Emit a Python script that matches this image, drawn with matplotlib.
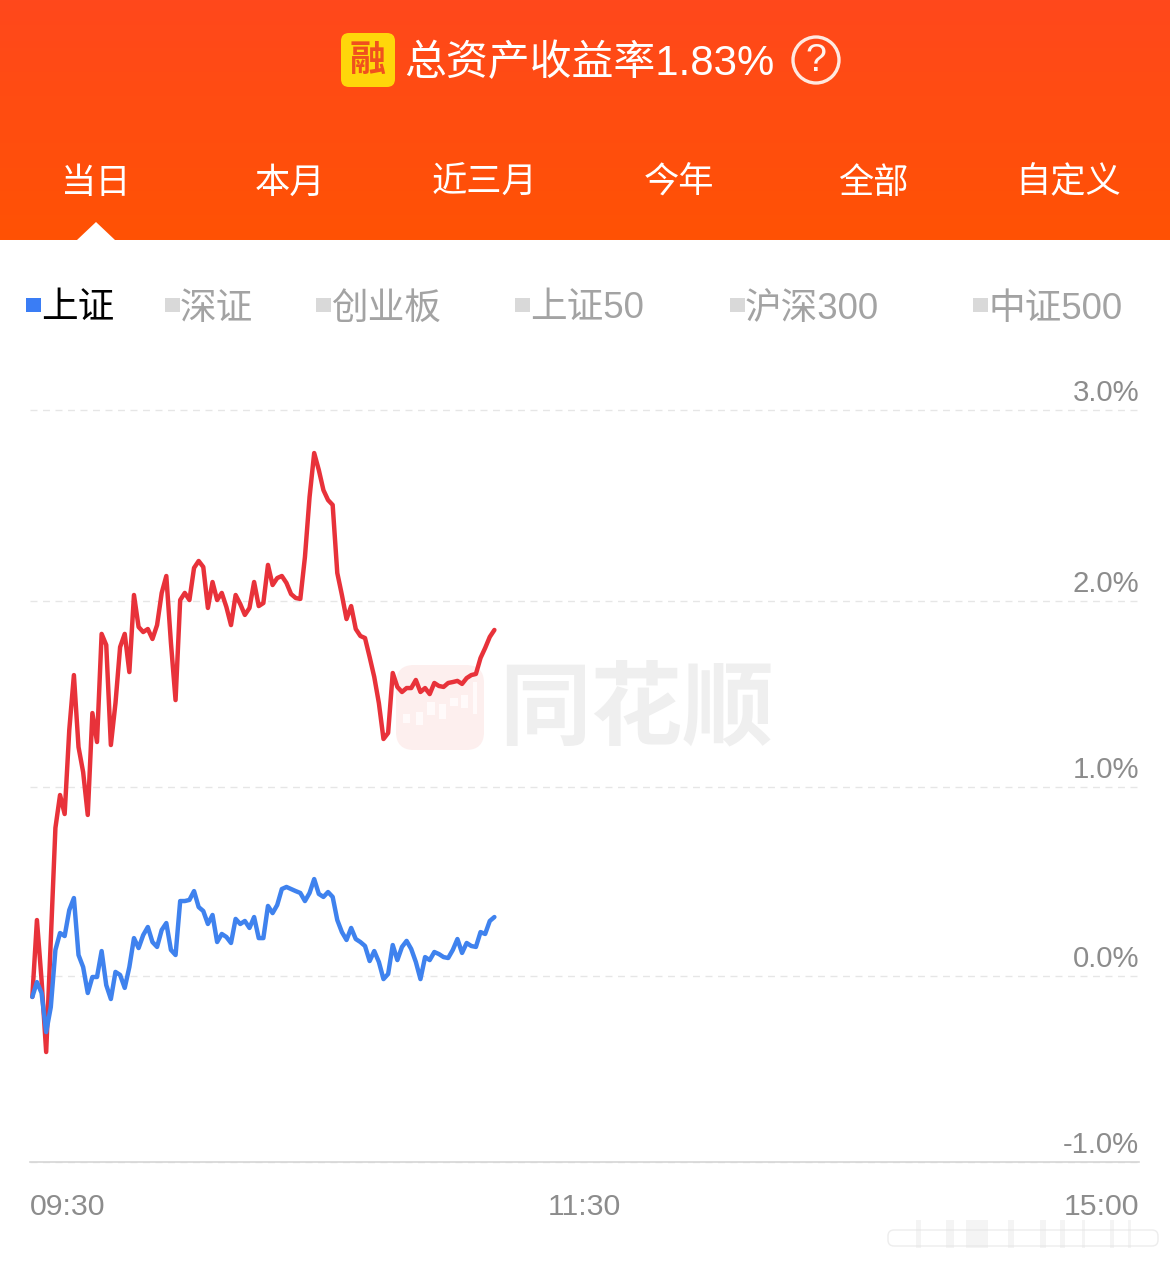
# %%
# Import area
import numpy as np
import matplotlib
matplotlib.use('Agg')
import matplotlib.pyplot as plt
from matplotlib.patches import FancyBboxPatch, Circle, Polygon, Rectangle

plt.rcParams['font.family'] = ['Liberation Sans', 'Noto Sans CJK SC', 'DejaVu Sans']

# %%
# Data

title_text = '总资产收益率1.83%'
tabs = ['当日', '本月', '近三月', '今年', '全部', '自定义']
indices = ['上证', '深证', '创业板', '上证50', '沪深300', '中证500']

y_labels = ['3.0%', '2.0%', '1.0%', '0.0%', '-1.0%']
grid_levels = [3.0, 1.984, 0.995, -0.011, -1.0]   # the lines are not quite evenly spaced in the screenshot

x_ticks = [0, 120, 240]
x_labels = ['09:30', '11:30', '15:00']

# one point per trading minute, in %
account = [
    -0.122, 0.287, -0.032, -0.415, 0.181, 0.777, 0.952, 0.851, 1.298, 1.590,
    1.207, 1.074, 0.846, 1.388, 1.234, 1.809, 1.750, 1.218, 1.441, 1.739,
    1.809, 1.606, 2.016, 1.846, 1.819, 1.835, 1.782, 1.856, 2.027, 2.117,
    1.761, 1.457, 1.989, 2.027, 1.989, 2.160, 2.197, 2.165, 1.947, 2.085,
    1.989, 2.027, 1.952, 1.856, 2.016, 1.968, 1.910, 1.947, 2.085, 1.957,
    1.973, 2.176, 2.069, 2.106, 2.117, 2.080, 2.021, 2.000, 1.995, 2.218,
    2.537, 2.771, 2.681, 2.574, 2.521, 2.495, 2.133, 2.016, 1.888, 1.957,
    1.835, 1.798, 1.787, 1.686, 1.580, 1.441, 1.250, 1.282, 1.601, 1.527,
    1.500, 1.521, 1.521, 1.564, 1.500, 1.521, 1.489, 1.548, 1.532, 1.527,
    1.548, 1.553, 1.559, 1.543, 1.574, 1.590, 1.596, 1.681, 1.734, 1.793,
    1.830]

shanghai = [
    -0.122, -0.043, -0.101, -0.309, -0.176, 0.128, 0.218, 0.202, 0.340, 0.404,
    0.101, 0.037, -0.101, -0.016, -0.016, 0.122, -0.059, -0.133, 0.011, -0.005,
    -0.074, 0.037, 0.191, 0.138, 0.207, 0.250, 0.170, 0.144, 0.234, 0.271,
    0.128, 0.101, 0.388, 0.388, 0.394, 0.441, 0.356, 0.335, 0.266, 0.314,
    0.170, 0.213, 0.197, 0.165, 0.293, 0.266, 0.282, 0.245, 0.303, 0.191,
    0.191, 0.362, 0.324, 0.367, 0.452, 0.463, 0.452, 0.441, 0.431, 0.388,
    0.431, 0.505, 0.426, 0.410, 0.436, 0.410, 0.287, 0.223, 0.181, 0.245,
    0.186, 0.170, 0.149, 0.069, 0.122, 0.064, -0.027, 0.000, 0.154, 0.074,
    0.144, 0.176, 0.133, 0.064, -0.027, 0.090, 0.074, 0.117, 0.106, 0.090,
    0.085, 0.128, 0.186, 0.112, 0.165, 0.149, 0.144, 0.223, 0.213, 0.282,
    0.303]

minutes = np.arange(len(account)) + 0.5

# %%
# Page furniture, drawn in pixel coordinates
W, H = 1170, 1263
fig = plt.figure(figsize=(W / 100, H / 100), dpi=100, facecolor='white')

bg = fig.add_axes([0, 0, 1, 1], zorder=0)
bg.imshow(np.linspace(0, 1, 240).reshape(-1, 1),
          cmap=matplotlib.colors.LinearSegmentedColormap.from_list('hdr', ['#FF481C', '#FF5204']),
          extent=[0, W, 240, 0], aspect='auto')
bg.set_xlim(0, W)
bg.set_ylim(H, 0)
bg.axis('off')

# little notch under the active tab
bg.add_patch(Polygon([[77, 240], [96, 222], [115, 240]], fc='white', ec='none'))

# title row
bg.add_patch(FancyBboxPatch((346, 38), 44, 44, boxstyle='round,pad=5,rounding_size=8',
                            fc='#FFD60A', ec='none'))
bg.text(368, 62, '融', color='#F0501E', fontsize=26, weight='bold', ha='center', va='center')
bg.text(404, 64, title_text, color='white', fontsize=30.2, ha='left', va='center')
bg.add_patch(Circle((816, 60), 23, fc='none', ec='#FFE9E0', lw=2.4))
bg.text(816, 61, '?', color='#FFF3EE', fontsize=27, ha='center', va='center')

# period tabs
tab_x = [96, 290, 484, 679, 873, 1068]
for x, t in zip(tab_x, tabs):
    bg.text(x, 183, t, color='white', fontsize=25.4, ha='center', va='center')

# index selector
square_x = [26, 165, 316, 515, 730, 973]
for i, (x, t) in enumerate(zip(square_x, indices)):
    active = i == 0
    bg.add_patch(Rectangle((x, 298), 15, 14, fc='#3A7DF5' if active else '#D9D9D9', ec='none'))
    bg.text(x + 15, 309, t, color='black' if active else '#A3A3A3', fontsize=26.4,
            ha='left', va='center')

# watermark, sits under the lines
bg.add_patch(FancyBboxPatch((408, 677), 64, 61, boxstyle='round,pad=12,rounding_size=18',
                            fc='#FDEFEE', ec='none'))
for x, y, w, h in [(403, 714, 7, 9), (416, 712, 7, 13), (427, 702, 8, 13), (439, 704, 7, 15),
                   (450, 698, 8, 8), (461, 695, 7, 13), (473, 682, 4, 32)]:
    bg.add_patch(Rectangle((x, y), w, h, fc='#FFFAFA', ec='none'))
bg.text(637, 713, '同花顺', color='#EFEFEF', fontsize=66, weight='bold', ha='center', va='center')

# blurred stamp in the bottom corner
bg.add_patch(FancyBboxPatch((890, 1232), 266, 12, boxstyle='round,pad=2,rounding_size=6',
                            fc='none', ec='#EDEDED', lw=1))
for x, w in [(916, 5), (946, 8), (966, 22), (1008, 6), (1040, 6), (1060, 5), (1082, 3), (1110, 4), (1128, 3)]:
    bg.add_patch(Rectangle((x, 1220), w, 28, fc='#E4E4E4', ec='none', alpha=0.4))

# %%
# The chart itself
ax = fig.add_axes([30 / W, 1 - 1162 / H, (1139 - 30) / W, (1162 - 410) / H], zorder=1)
ax.patch.set_alpha(0)
ax.plot(minutes, account, color='#E8323A', lw=3.2, solid_joinstyle='round', solid_capstyle='round')
ax.plot(minutes, shanghai, color='#3F82EE', lw=3.2, solid_joinstyle='round', solid_capstyle='round')

ax.set_xlim(0, 240)
ax.set_ylim(-1, 3)
ax.set_yticks(grid_levels)
ax.set_yticklabels([])
ax.grid(axis='y', color='#E6E6E6', lw=1, ls=(0, (5, 4)), clip_on=False)
ax.set_axisbelow(True)
for s in ['top', 'left', 'right']:
    ax.spines[s].set_visible(False)
ax.spines['bottom'].set_color('#D6D6D6')
ax.spines['bottom'].set_linewidth(1.2)

ax.set_xticks(x_ticks)
ax.set_xticklabels(x_labels, color='#8C8C8C', fontsize=21.8)
ax.tick_params(length=0)
ax.tick_params(axis='x', pad=22)
for lab, ha in zip(ax.get_xticklabels(), ['left', 'center', 'right']):
    lab.set_ha(ha)

for level, lab in zip(grid_levels, y_labels):
    ax.annotate(lab, xy=(1, level), xycoords=('axes fraction', 'data'), xytext=(0, 9),
                textcoords='offset pixels', ha='right', va='baseline',
                color='#8C8C8C', fontsize=21.2)

fig.savefig('out.png', dpi=100)
